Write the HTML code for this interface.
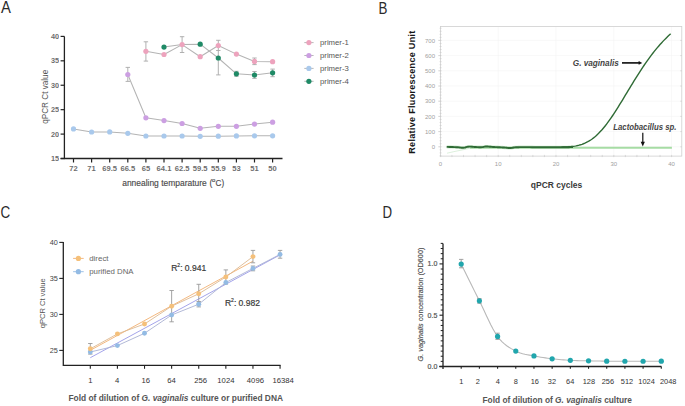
<!DOCTYPE html>
<html><head><meta charset="utf-8"><style>
html,body{margin:0;padding:0;background:#fff;width:685px;height:406px;overflow:hidden}
svg{display:block}
text{font-family:"Liberation Sans",sans-serif}
</style></head><body>
<svg width="685" height="406" viewBox="0 0 685 406">
<rect width="685" height="406" fill="#fff"/>
<text x="0.9" y="13.3" font-size="16.5" text-anchor="start" fill="#2a2a2a" font-weight="normal" font-style="normal" font-family="Liberation Sans, sans-serif" textLength="9.9" lengthAdjust="spacingAndGlyphs" >A</text>
<text x="378.4" y="13.8" font-size="16.5" text-anchor="start" fill="#2a2a2a" font-weight="normal" font-style="normal" font-family="Liberation Sans, sans-serif" textLength="8.9" lengthAdjust="spacingAndGlyphs" >B</text>
<text x="0.6" y="218.2" font-size="16.5" text-anchor="start" fill="#2a2a2a" font-weight="normal" font-style="normal" font-family="Liberation Sans, sans-serif" textLength="9.7" lengthAdjust="spacingAndGlyphs" >C</text>
<text x="382.6" y="218.3" font-size="16.5" text-anchor="start" fill="#2a2a2a" font-weight="normal" font-style="normal" font-family="Liberation Sans, sans-serif" textLength="9.6" lengthAdjust="spacingAndGlyphs" >D</text>
<line x1="64.4" y1="36.4" x2="64.4" y2="159.1" stroke="#222" stroke-width="1.3" />
<line x1="60.6" y1="36.4" x2="64.4" y2="36.4" stroke="#222" stroke-width="1.2" />
<text x="59" y="39.03" font-size="7.3" text-anchor="end" fill="#555" font-weight="bold" font-style="normal" font-family="Liberation Sans, sans-serif" opacity="0.85">40</text>
<line x1="60.6" y1="60.82" x2="64.4" y2="60.82" stroke="#222" stroke-width="1.2" />
<text x="59" y="63.45" font-size="7.3" text-anchor="end" fill="#555" font-weight="bold" font-style="normal" font-family="Liberation Sans, sans-serif" opacity="0.85">35</text>
<line x1="60.6" y1="85.25" x2="64.4" y2="85.25" stroke="#222" stroke-width="1.2" />
<text x="59" y="87.88" font-size="7.3" text-anchor="end" fill="#555" font-weight="bold" font-style="normal" font-family="Liberation Sans, sans-serif" opacity="0.85">30</text>
<line x1="60.6" y1="109.67" x2="64.4" y2="109.67" stroke="#222" stroke-width="1.2" />
<text x="59" y="112.3" font-size="7.3" text-anchor="end" fill="#555" font-weight="bold" font-style="normal" font-family="Liberation Sans, sans-serif" opacity="0.85">25</text>
<line x1="60.6" y1="134.1" x2="64.4" y2="134.1" stroke="#222" stroke-width="1.2" />
<text x="59" y="136.73" font-size="7.3" text-anchor="end" fill="#555" font-weight="bold" font-style="normal" font-family="Liberation Sans, sans-serif" opacity="0.85">20</text>
<line x1="60.6" y1="158.53" x2="64.4" y2="158.53" stroke="#222" stroke-width="1.2" />
<text x="59" y="161.15" font-size="7.3" text-anchor="end" fill="#555" font-weight="bold" font-style="normal" font-family="Liberation Sans, sans-serif" opacity="0.85">15</text>
<line x1="60.6" y1="158.5" x2="282.5" y2="158.5" stroke="#222" stroke-width="1.3" />
<line x1="73.5" y1="158.5" x2="73.5" y2="162.5" stroke="#222" stroke-width="1.2" />
<text x="73.5" y="170.64" font-size="7.6" text-anchor="middle" fill="#555" font-weight="bold" font-style="normal" font-family="Liberation Sans, sans-serif" opacity="0.85">72</text>
<line x1="91.6" y1="158.5" x2="91.6" y2="162.5" stroke="#222" stroke-width="1.2" />
<text x="91.6" y="170.64" font-size="7.6" text-anchor="middle" fill="#555" font-weight="bold" font-style="normal" font-family="Liberation Sans, sans-serif" opacity="0.85">71</text>
<line x1="109.7" y1="158.5" x2="109.7" y2="162.5" stroke="#222" stroke-width="1.2" />
<text x="109.7" y="170.64" font-size="7.6" text-anchor="middle" fill="#555" font-weight="bold" font-style="normal" font-family="Liberation Sans, sans-serif" opacity="0.85">69.5</text>
<line x1="127.8" y1="158.5" x2="127.8" y2="162.5" stroke="#222" stroke-width="1.2" />
<text x="127.8" y="170.64" font-size="7.6" text-anchor="middle" fill="#555" font-weight="bold" font-style="normal" font-family="Liberation Sans, sans-serif" opacity="0.85">66.5</text>
<line x1="145.9" y1="158.5" x2="145.9" y2="162.5" stroke="#222" stroke-width="1.2" />
<text x="145.9" y="170.64" font-size="7.6" text-anchor="middle" fill="#555" font-weight="bold" font-style="normal" font-family="Liberation Sans, sans-serif" opacity="0.85">65</text>
<line x1="164" y1="158.5" x2="164" y2="162.5" stroke="#222" stroke-width="1.2" />
<text x="164" y="170.64" font-size="7.6" text-anchor="middle" fill="#555" font-weight="bold" font-style="normal" font-family="Liberation Sans, sans-serif" opacity="0.85">64.1</text>
<line x1="182.1" y1="158.5" x2="182.1" y2="162.5" stroke="#222" stroke-width="1.2" />
<text x="182.1" y="170.64" font-size="7.6" text-anchor="middle" fill="#555" font-weight="bold" font-style="normal" font-family="Liberation Sans, sans-serif" opacity="0.85">62.5</text>
<line x1="200.2" y1="158.5" x2="200.2" y2="162.5" stroke="#222" stroke-width="1.2" />
<text x="200.2" y="170.64" font-size="7.6" text-anchor="middle" fill="#555" font-weight="bold" font-style="normal" font-family="Liberation Sans, sans-serif" opacity="0.85">59.5</text>
<line x1="218.3" y1="158.5" x2="218.3" y2="162.5" stroke="#222" stroke-width="1.2" />
<text x="218.3" y="170.64" font-size="7.6" text-anchor="middle" fill="#555" font-weight="bold" font-style="normal" font-family="Liberation Sans, sans-serif" opacity="0.85">55.9</text>
<line x1="236.4" y1="158.5" x2="236.4" y2="162.5" stroke="#222" stroke-width="1.2" />
<text x="236.4" y="170.64" font-size="7.6" text-anchor="middle" fill="#555" font-weight="bold" font-style="normal" font-family="Liberation Sans, sans-serif" opacity="0.85">53</text>
<line x1="254.5" y1="158.5" x2="254.5" y2="162.5" stroke="#222" stroke-width="1.2" />
<text x="254.5" y="170.64" font-size="7.6" text-anchor="middle" fill="#555" font-weight="bold" font-style="normal" font-family="Liberation Sans, sans-serif" opacity="0.85">51</text>
<line x1="272.6" y1="158.5" x2="272.6" y2="162.5" stroke="#222" stroke-width="1.2" />
<text x="272.6" y="170.64" font-size="7.6" text-anchor="middle" fill="#555" font-weight="bold" font-style="normal" font-family="Liberation Sans, sans-serif" opacity="0.85">50</text>
<text x="122.2" y="186.3" font-size="8.6" text-anchor="start" fill="#4a4a4a" font-weight="normal" font-style="normal" font-family="Liberation Sans, sans-serif" textLength="84.5" lengthAdjust="spacingAndGlyphs" stroke="#4a4a4a" stroke-width="0.15">annealing temparature</text>
<text x="209.6" y="186.3" font-size="8.6" text-anchor="start" fill="#4a4a4a" font-weight="normal" font-style="normal" font-family="Liberation Sans, sans-serif" stroke="#4a4a4a" stroke-width="0.15">(</text>
<text x="212" y="181.76" font-size="6" text-anchor="start" fill="#4a4a4a" font-weight="normal" font-style="normal" font-family="Liberation Sans, sans-serif" stroke="#4a4a4a" stroke-width="0.15">o</text>
<text x="215.6" y="186.3" font-size="8.6" text-anchor="start" fill="#4a4a4a" font-weight="normal" font-style="normal" font-family="Liberation Sans, sans-serif" textLength="8.6" lengthAdjust="spacingAndGlyphs" stroke="#4a4a4a" stroke-width="0.15">C)</text>
<text x="44.7" y="99.75" font-size="8.2" text-anchor="middle" fill="#555" font-weight="normal" font-style="normal" font-family="Liberation Sans, sans-serif" textLength="54" lengthAdjust="spacingAndGlyphs" transform="rotate(-90 44.7 96.8)" >qPCR Ct value</text>
<polyline points="73.5,128.9 91.6,132 109.7,131.9 127.8,133.3 145.9,136 164,136 182.1,136 200.2,136.3 218.3,136.2 236.4,135.9 254.5,135.8 272.6,135.8" fill="none" stroke="#b4b4b4" stroke-width="1.05" stroke-linejoin="round" />
<polyline points="127.8,74.5 145.9,117.8 164,120.6 182.1,123.5 200.2,128.3 218.3,126.3 236.4,126.3 254.5,124.1 272.6,122.2" fill="none" stroke="#b4b4b4" stroke-width="1.05" stroke-linejoin="round" />
<polyline points="164,47.1 182.1,44.5 200.2,44.2 218.3,58 236.4,73.8 254.5,75 272.6,72.8" fill="none" stroke="#b4b4b4" stroke-width="1.05" stroke-linejoin="round" />
<polyline points="145.9,51.3 164,54.5 182.1,44.6 200.2,56.7 218.3,45.5 236.4,54.1 254.5,61.4 272.6,61.7" fill="none" stroke="#b4b4b4" stroke-width="1.05" stroke-linejoin="round" />
<line x1="127.8" y1="67.4" x2="127.8" y2="81.4" stroke="#a8a8a8" stroke-width="0.9" />
<line x1="125.6" y1="67.4" x2="130" y2="67.4" stroke="#a8a8a8" stroke-width="0.9" />
<line x1="125.6" y1="81.4" x2="130" y2="81.4" stroke="#a8a8a8" stroke-width="0.9" />
<line x1="145.9" y1="41.8" x2="145.9" y2="61.1" stroke="#a8a8a8" stroke-width="0.9" />
<line x1="143.7" y1="41.8" x2="148.1" y2="41.8" stroke="#a8a8a8" stroke-width="0.9" />
<line x1="143.7" y1="61.1" x2="148.1" y2="61.1" stroke="#a8a8a8" stroke-width="0.9" />
<line x1="182.1" y1="36.7" x2="182.1" y2="52.5" stroke="#a8a8a8" stroke-width="0.9" />
<line x1="179.9" y1="36.7" x2="184.3" y2="36.7" stroke="#a8a8a8" stroke-width="0.9" />
<line x1="179.9" y1="52.5" x2="184.3" y2="52.5" stroke="#a8a8a8" stroke-width="0.9" />
<line x1="218.3" y1="40.3" x2="218.3" y2="74.9" stroke="#a8a8a8" stroke-width="0.9" />
<line x1="216.1" y1="40.3" x2="220.5" y2="40.3" stroke="#a8a8a8" stroke-width="0.9" />
<line x1="216.1" y1="74.9" x2="220.5" y2="74.9" stroke="#a8a8a8" stroke-width="0.9" />
<line x1="216.1" y1="50.5" x2="220.5" y2="50.5" stroke="#a8a8a8" stroke-width="0.9" />
<line x1="254.5" y1="58" x2="254.5" y2="64.6" stroke="#a8a8a8" stroke-width="0.9" />
<line x1="252.3" y1="58" x2="256.7" y2="58" stroke="#a8a8a8" stroke-width="0.9" />
<line x1="252.3" y1="64.6" x2="256.7" y2="64.6" stroke="#a8a8a8" stroke-width="0.9" />
<line x1="254.5" y1="71.5" x2="254.5" y2="78.4" stroke="#a8a8a8" stroke-width="0.9" />
<line x1="252.3" y1="71.5" x2="256.7" y2="71.5" stroke="#a8a8a8" stroke-width="0.9" />
<line x1="252.3" y1="78.4" x2="256.7" y2="78.4" stroke="#a8a8a8" stroke-width="0.9" />
<line x1="272.6" y1="69.1" x2="272.6" y2="76.7" stroke="#a8a8a8" stroke-width="0.9" />
<line x1="270.4" y1="69.1" x2="274.8" y2="69.1" stroke="#a8a8a8" stroke-width="0.9" />
<line x1="270.4" y1="76.7" x2="274.8" y2="76.7" stroke="#a8a8a8" stroke-width="0.9" />
<line x1="236.4" y1="71.3" x2="236.4" y2="76.3" stroke="#a8a8a8" stroke-width="0.9" />
<line x1="234.2" y1="71.3" x2="238.6" y2="71.3" stroke="#a8a8a8" stroke-width="0.9" />
<line x1="234.2" y1="76.3" x2="238.6" y2="76.3" stroke="#a8a8a8" stroke-width="0.9" />
<circle cx="73.5" cy="128.9" r="2.6" fill="#a9c9ec" />
<circle cx="91.6" cy="132" r="2.6" fill="#a9c9ec" />
<circle cx="109.7" cy="131.9" r="2.6" fill="#a9c9ec" />
<circle cx="127.8" cy="133.3" r="2.6" fill="#a9c9ec" />
<circle cx="145.9" cy="136" r="2.6" fill="#a9c9ec" />
<circle cx="164" cy="136" r="2.6" fill="#a9c9ec" />
<circle cx="182.1" cy="136" r="2.6" fill="#a9c9ec" />
<circle cx="200.2" cy="136.3" r="2.6" fill="#a9c9ec" />
<circle cx="218.3" cy="136.2" r="2.6" fill="#a9c9ec" />
<circle cx="236.4" cy="135.9" r="2.6" fill="#a9c9ec" />
<circle cx="254.5" cy="135.8" r="2.6" fill="#a9c9ec" />
<circle cx="272.6" cy="135.8" r="2.6" fill="#a9c9ec" />
<circle cx="127.8" cy="74.5" r="2.6" fill="#cc9fe2" />
<circle cx="145.9" cy="117.8" r="2.6" fill="#cc9fe2" />
<circle cx="164" cy="120.6" r="2.6" fill="#cc9fe2" />
<circle cx="182.1" cy="123.5" r="2.6" fill="#cc9fe2" />
<circle cx="200.2" cy="128.3" r="2.6" fill="#cc9fe2" />
<circle cx="218.3" cy="126.3" r="2.6" fill="#cc9fe2" />
<circle cx="236.4" cy="126.3" r="2.6" fill="#cc9fe2" />
<circle cx="254.5" cy="124.1" r="2.6" fill="#cc9fe2" />
<circle cx="272.6" cy="122.2" r="2.6" fill="#cc9fe2" />
<circle cx="164" cy="47.1" r="2.6" fill="#1f8a66" />
<circle cx="200.2" cy="44.2" r="2.6" fill="#1f8a66" />
<circle cx="218.3" cy="58" r="2.6" fill="#1f8a66" />
<circle cx="236.4" cy="73.8" r="2.6" fill="#1f8a66" />
<circle cx="254.5" cy="75" r="2.6" fill="#1f8a66" />
<circle cx="272.6" cy="72.8" r="2.6" fill="#1f8a66" />
<circle cx="145.9" cy="51.3" r="2.6" fill="#eda3bd" />
<circle cx="164" cy="54.5" r="2.6" fill="#eda3bd" />
<circle cx="182.1" cy="44.6" r="2.6" fill="#eda3bd" />
<circle cx="200.2" cy="56.7" r="2.6" fill="#eda3bd" />
<circle cx="218.3" cy="45.5" r="2.6" fill="#eda3bd" />
<circle cx="236.4" cy="54.1" r="2.6" fill="#eda3bd" />
<circle cx="254.5" cy="61.4" r="2.6" fill="#eda3bd" />
<circle cx="272.6" cy="61.7" r="2.6" fill="#eda3bd" />
<line x1="304.3" y1="42.6" x2="313.6" y2="42.6" stroke="#b0b0b0" stroke-width="0.9" />
<circle cx="308.9" cy="42.6" r="2.6" fill="#eda3bd" />
<text x="320" y="45.48" font-size="8" text-anchor="start" fill="#555" font-weight="normal" font-style="normal" font-family="Liberation Sans, sans-serif" textLength="28.8" lengthAdjust="spacingAndGlyphs" >primer-1</text>
<line x1="304.3" y1="55.5" x2="313.6" y2="55.5" stroke="#b0b0b0" stroke-width="0.9" />
<circle cx="308.9" cy="55.5" r="2.6" fill="#cc9fe2" />
<text x="320" y="58.38" font-size="8" text-anchor="start" fill="#555" font-weight="normal" font-style="normal" font-family="Liberation Sans, sans-serif" textLength="28.8" lengthAdjust="spacingAndGlyphs" >primer-2</text>
<line x1="304.3" y1="68.4" x2="313.6" y2="68.4" stroke="#b0b0b0" stroke-width="0.9" />
<circle cx="308.9" cy="68.4" r="2.6" fill="#a9c9ec" />
<text x="320" y="71.28" font-size="8" text-anchor="start" fill="#555" font-weight="normal" font-style="normal" font-family="Liberation Sans, sans-serif" textLength="28.8" lengthAdjust="spacingAndGlyphs" >primer-3</text>
<line x1="304.3" y1="81.3" x2="313.6" y2="81.3" stroke="#b0b0b0" stroke-width="0.9" />
<circle cx="308.9" cy="81.3" r="2.6" fill="#1f8a66" />
<text x="320" y="84.18" font-size="8" text-anchor="start" fill="#555" font-weight="normal" font-style="normal" font-family="Liberation Sans, sans-serif" textLength="28.8" lengthAdjust="spacingAndGlyphs" >primer-4</text>
<line x1="440.4" y1="146.8" x2="681.8" y2="146.8" stroke="#f3f3f3" stroke-width="0.6" />
<line x1="440.4" y1="131.6" x2="681.8" y2="131.6" stroke="#f3f3f3" stroke-width="0.6" />
<line x1="440.4" y1="116.4" x2="681.8" y2="116.4" stroke="#f3f3f3" stroke-width="0.6" />
<line x1="440.4" y1="101.2" x2="681.8" y2="101.2" stroke="#f3f3f3" stroke-width="0.6" />
<line x1="440.4" y1="86" x2="681.8" y2="86" stroke="#f3f3f3" stroke-width="0.6" />
<line x1="440.4" y1="70.8" x2="681.8" y2="70.8" stroke="#f3f3f3" stroke-width="0.6" />
<line x1="440.4" y1="55.6" x2="681.8" y2="55.6" stroke="#f3f3f3" stroke-width="0.6" />
<line x1="440.4" y1="40.4" x2="681.8" y2="40.4" stroke="#f3f3f3" stroke-width="0.6" />
<line x1="498.2" y1="26.4" x2="498.2" y2="156.1" stroke="#f3f3f3" stroke-width="0.6" />
<line x1="556" y1="26.4" x2="556" y2="156.1" stroke="#f3f3f3" stroke-width="0.6" />
<line x1="613.8" y1="26.4" x2="613.8" y2="156.1" stroke="#f3f3f3" stroke-width="0.6" />
<line x1="671.6" y1="26.4" x2="671.6" y2="156.1" stroke="#f3f3f3" stroke-width="0.6" />
<rect x="440.4" y="26.4" width="241.4" height="129.7" fill="none" stroke="#cfcfcf" stroke-width="0.8"/>
<line x1="439.6" y1="155.92" x2="441.6" y2="155.92" stroke="#c8c8c8" stroke-width="0.6" />
<line x1="439.6" y1="152.88" x2="441.6" y2="152.88" stroke="#c8c8c8" stroke-width="0.6" />
<line x1="439.6" y1="149.84" x2="441.6" y2="149.84" stroke="#c8c8c8" stroke-width="0.6" />
<line x1="439.6" y1="146.8" x2="441.6" y2="146.8" stroke="#c8c8c8" stroke-width="0.6" />
<line x1="439.6" y1="143.76" x2="441.6" y2="143.76" stroke="#c8c8c8" stroke-width="0.6" />
<line x1="439.6" y1="140.72" x2="441.6" y2="140.72" stroke="#c8c8c8" stroke-width="0.6" />
<line x1="439.6" y1="137.68" x2="441.6" y2="137.68" stroke="#c8c8c8" stroke-width="0.6" />
<line x1="439.6" y1="134.64" x2="441.6" y2="134.64" stroke="#c8c8c8" stroke-width="0.6" />
<line x1="439.6" y1="131.6" x2="441.6" y2="131.6" stroke="#c8c8c8" stroke-width="0.6" />
<line x1="439.6" y1="128.56" x2="441.6" y2="128.56" stroke="#c8c8c8" stroke-width="0.6" />
<line x1="439.6" y1="125.52" x2="441.6" y2="125.52" stroke="#c8c8c8" stroke-width="0.6" />
<line x1="439.6" y1="122.48" x2="441.6" y2="122.48" stroke="#c8c8c8" stroke-width="0.6" />
<line x1="439.6" y1="119.44" x2="441.6" y2="119.44" stroke="#c8c8c8" stroke-width="0.6" />
<line x1="439.6" y1="116.4" x2="441.6" y2="116.4" stroke="#c8c8c8" stroke-width="0.6" />
<line x1="439.6" y1="113.36" x2="441.6" y2="113.36" stroke="#c8c8c8" stroke-width="0.6" />
<line x1="439.6" y1="110.32" x2="441.6" y2="110.32" stroke="#c8c8c8" stroke-width="0.6" />
<line x1="439.6" y1="107.28" x2="441.6" y2="107.28" stroke="#c8c8c8" stroke-width="0.6" />
<line x1="439.6" y1="104.24" x2="441.6" y2="104.24" stroke="#c8c8c8" stroke-width="0.6" />
<line x1="439.6" y1="101.2" x2="441.6" y2="101.2" stroke="#c8c8c8" stroke-width="0.6" />
<line x1="439.6" y1="98.16" x2="441.6" y2="98.16" stroke="#c8c8c8" stroke-width="0.6" />
<line x1="439.6" y1="95.12" x2="441.6" y2="95.12" stroke="#c8c8c8" stroke-width="0.6" />
<line x1="439.6" y1="92.08" x2="441.6" y2="92.08" stroke="#c8c8c8" stroke-width="0.6" />
<line x1="439.6" y1="89.04" x2="441.6" y2="89.04" stroke="#c8c8c8" stroke-width="0.6" />
<line x1="439.6" y1="86" x2="441.6" y2="86" stroke="#c8c8c8" stroke-width="0.6" />
<line x1="439.6" y1="82.96" x2="441.6" y2="82.96" stroke="#c8c8c8" stroke-width="0.6" />
<line x1="439.6" y1="79.92" x2="441.6" y2="79.92" stroke="#c8c8c8" stroke-width="0.6" />
<line x1="439.6" y1="76.88" x2="441.6" y2="76.88" stroke="#c8c8c8" stroke-width="0.6" />
<line x1="439.6" y1="73.84" x2="441.6" y2="73.84" stroke="#c8c8c8" stroke-width="0.6" />
<line x1="439.6" y1="70.8" x2="441.6" y2="70.8" stroke="#c8c8c8" stroke-width="0.6" />
<line x1="439.6" y1="67.76" x2="441.6" y2="67.76" stroke="#c8c8c8" stroke-width="0.6" />
<line x1="439.6" y1="64.72" x2="441.6" y2="64.72" stroke="#c8c8c8" stroke-width="0.6" />
<line x1="439.6" y1="61.68" x2="441.6" y2="61.68" stroke="#c8c8c8" stroke-width="0.6" />
<line x1="439.6" y1="58.64" x2="441.6" y2="58.64" stroke="#c8c8c8" stroke-width="0.6" />
<line x1="439.6" y1="55.6" x2="441.6" y2="55.6" stroke="#c8c8c8" stroke-width="0.6" />
<line x1="439.6" y1="52.56" x2="441.6" y2="52.56" stroke="#c8c8c8" stroke-width="0.6" />
<line x1="439.6" y1="49.52" x2="441.6" y2="49.52" stroke="#c8c8c8" stroke-width="0.6" />
<line x1="439.6" y1="46.48" x2="441.6" y2="46.48" stroke="#c8c8c8" stroke-width="0.6" />
<line x1="439.6" y1="43.44" x2="441.6" y2="43.44" stroke="#c8c8c8" stroke-width="0.6" />
<line x1="439.6" y1="40.4" x2="441.6" y2="40.4" stroke="#c8c8c8" stroke-width="0.6" />
<line x1="439.6" y1="37.36" x2="441.6" y2="37.36" stroke="#c8c8c8" stroke-width="0.6" />
<line x1="439.6" y1="34.32" x2="441.6" y2="34.32" stroke="#c8c8c8" stroke-width="0.6" />
<line x1="439.6" y1="31.28" x2="441.6" y2="31.28" stroke="#c8c8c8" stroke-width="0.6" />
<line x1="439.6" y1="28.24" x2="441.6" y2="28.24" stroke="#c8c8c8" stroke-width="0.6" />
<line x1="438.2" y1="146.8" x2="440.4" y2="146.8" stroke="#c0c0c0" stroke-width="0.6" />
<text x="435" y="148.96" font-size="6" text-anchor="end" fill="#a0a0a0" font-weight="normal" font-style="normal" font-family="Liberation Sans, sans-serif" >0</text>
<line x1="438.2" y1="131.6" x2="440.4" y2="131.6" stroke="#c0c0c0" stroke-width="0.6" />
<text x="435" y="133.76" font-size="6" text-anchor="end" fill="#a0a0a0" font-weight="normal" font-style="normal" font-family="Liberation Sans, sans-serif" >100</text>
<line x1="438.2" y1="116.4" x2="440.4" y2="116.4" stroke="#c0c0c0" stroke-width="0.6" />
<text x="435" y="118.56" font-size="6" text-anchor="end" fill="#a0a0a0" font-weight="normal" font-style="normal" font-family="Liberation Sans, sans-serif" >200</text>
<line x1="438.2" y1="101.2" x2="440.4" y2="101.2" stroke="#c0c0c0" stroke-width="0.6" />
<text x="435" y="103.36" font-size="6" text-anchor="end" fill="#a0a0a0" font-weight="normal" font-style="normal" font-family="Liberation Sans, sans-serif" >300</text>
<line x1="438.2" y1="86" x2="440.4" y2="86" stroke="#c0c0c0" stroke-width="0.6" />
<text x="435" y="88.16" font-size="6" text-anchor="end" fill="#a0a0a0" font-weight="normal" font-style="normal" font-family="Liberation Sans, sans-serif" >400</text>
<line x1="438.2" y1="70.8" x2="440.4" y2="70.8" stroke="#c0c0c0" stroke-width="0.6" />
<text x="435" y="72.96" font-size="6" text-anchor="end" fill="#a0a0a0" font-weight="normal" font-style="normal" font-family="Liberation Sans, sans-serif" >500</text>
<line x1="438.2" y1="55.6" x2="440.4" y2="55.6" stroke="#c0c0c0" stroke-width="0.6" />
<text x="435" y="57.76" font-size="6" text-anchor="end" fill="#a0a0a0" font-weight="normal" font-style="normal" font-family="Liberation Sans, sans-serif" >600</text>
<line x1="438.2" y1="40.4" x2="440.4" y2="40.4" stroke="#c0c0c0" stroke-width="0.6" />
<text x="435" y="42.56" font-size="6" text-anchor="end" fill="#a0a0a0" font-weight="normal" font-style="normal" font-family="Liberation Sans, sans-serif" >700</text>
<line x1="440.4" y1="154.9" x2="440.4" y2="157.1" stroke="#c8c8c8" stroke-width="0.6" />
<line x1="451.96" y1="154.9" x2="451.96" y2="157.1" stroke="#c8c8c8" stroke-width="0.6" />
<line x1="463.52" y1="154.9" x2="463.52" y2="157.1" stroke="#c8c8c8" stroke-width="0.6" />
<line x1="475.08" y1="154.9" x2="475.08" y2="157.1" stroke="#c8c8c8" stroke-width="0.6" />
<line x1="486.64" y1="154.9" x2="486.64" y2="157.1" stroke="#c8c8c8" stroke-width="0.6" />
<line x1="498.2" y1="154.9" x2="498.2" y2="157.1" stroke="#c8c8c8" stroke-width="0.6" />
<line x1="509.76" y1="154.9" x2="509.76" y2="157.1" stroke="#c8c8c8" stroke-width="0.6" />
<line x1="521.32" y1="154.9" x2="521.32" y2="157.1" stroke="#c8c8c8" stroke-width="0.6" />
<line x1="532.88" y1="154.9" x2="532.88" y2="157.1" stroke="#c8c8c8" stroke-width="0.6" />
<line x1="544.44" y1="154.9" x2="544.44" y2="157.1" stroke="#c8c8c8" stroke-width="0.6" />
<line x1="556" y1="154.9" x2="556" y2="157.1" stroke="#c8c8c8" stroke-width="0.6" />
<line x1="567.56" y1="154.9" x2="567.56" y2="157.1" stroke="#c8c8c8" stroke-width="0.6" />
<line x1="579.12" y1="154.9" x2="579.12" y2="157.1" stroke="#c8c8c8" stroke-width="0.6" />
<line x1="590.68" y1="154.9" x2="590.68" y2="157.1" stroke="#c8c8c8" stroke-width="0.6" />
<line x1="602.24" y1="154.9" x2="602.24" y2="157.1" stroke="#c8c8c8" stroke-width="0.6" />
<line x1="613.8" y1="154.9" x2="613.8" y2="157.1" stroke="#c8c8c8" stroke-width="0.6" />
<line x1="625.36" y1="154.9" x2="625.36" y2="157.1" stroke="#c8c8c8" stroke-width="0.6" />
<line x1="636.92" y1="154.9" x2="636.92" y2="157.1" stroke="#c8c8c8" stroke-width="0.6" />
<line x1="648.48" y1="154.9" x2="648.48" y2="157.1" stroke="#c8c8c8" stroke-width="0.6" />
<line x1="660.04" y1="154.9" x2="660.04" y2="157.1" stroke="#c8c8c8" stroke-width="0.6" />
<line x1="671.6" y1="154.9" x2="671.6" y2="157.1" stroke="#c8c8c8" stroke-width="0.6" />
<line x1="680.3" y1="146.8" x2="681.8" y2="146.8" stroke="#c8c8c8" stroke-width="0.6" />
<line x1="680.3" y1="131.6" x2="681.8" y2="131.6" stroke="#c8c8c8" stroke-width="0.6" />
<line x1="680.3" y1="116.4" x2="681.8" y2="116.4" stroke="#c8c8c8" stroke-width="0.6" />
<line x1="680.3" y1="101.2" x2="681.8" y2="101.2" stroke="#c8c8c8" stroke-width="0.6" />
<line x1="680.3" y1="86" x2="681.8" y2="86" stroke="#c8c8c8" stroke-width="0.6" />
<line x1="680.3" y1="70.8" x2="681.8" y2="70.8" stroke="#c8c8c8" stroke-width="0.6" />
<line x1="680.3" y1="55.6" x2="681.8" y2="55.6" stroke="#c8c8c8" stroke-width="0.6" />
<line x1="680.3" y1="40.4" x2="681.8" y2="40.4" stroke="#c8c8c8" stroke-width="0.6" />
<text x="440.4" y="166.36" font-size="6" text-anchor="middle" fill="#a0a0a0" font-weight="normal" font-style="normal" font-family="Liberation Sans, sans-serif" >0</text>
<text x="498.2" y="166.36" font-size="6" text-anchor="middle" fill="#a0a0a0" font-weight="normal" font-style="normal" font-family="Liberation Sans, sans-serif" >10</text>
<text x="556" y="166.36" font-size="6" text-anchor="middle" fill="#a0a0a0" font-weight="normal" font-style="normal" font-family="Liberation Sans, sans-serif" >20</text>
<text x="613.8" y="166.36" font-size="6" text-anchor="middle" fill="#a0a0a0" font-weight="normal" font-style="normal" font-family="Liberation Sans, sans-serif" >30</text>
<text x="671.6" y="166.36" font-size="6" text-anchor="middle" fill="#a0a0a0" font-weight="normal" font-style="normal" font-family="Liberation Sans, sans-serif" >40</text>
<text x="0" y="0" font-size="9" font-weight="bold" fill="#151515" font-family="Liberation Sans, sans-serif" textLength="123" lengthAdjust="spacing" transform="translate(415.3,153.7) rotate(-90)">Relative Fluorescence Unit</text>
<text x="530.8" y="188.24" font-size="9" text-anchor="start" fill="#3a3a3a" font-weight="bold" font-style="normal" font-family="Liberation Sans, sans-serif" textLength="51.4" lengthAdjust="spacingAndGlyphs" >qPCR cycles</text>
<polyline points="447,153.2 455,151.4 463.4,149.7 470,148.2 476,147.7" fill="none" stroke="#d4ecd4" stroke-width="0.8" stroke-linejoin="round" />
<line x1="470" y1="147.7" x2="671.9" y2="147.7" stroke="#a6dca4" stroke-width="2" />
<polyline points="446.7,146.9 447.27,146.91 448.05,146.92 448.97,146.93 449.99,146.95 451.01,146.97 452,147 452.97,147.04 453.97,147.08 454.99,147.12 456.02,147.18 457.03,147.24 458,147.3 458.93,147.39 459.84,147.51 460.73,147.64 461.61,147.75 462.5,147.81 463.4,147.8 464.32,147.68 465.24,147.47 466.16,147.21 467.1,146.94 468.04,146.73 469,146.6 469.98,146.58 470.97,146.62 471.98,146.71 472.99,146.82 474,146.93 475,147 476,147.06 477.01,147.11 478.02,147.17 479.02,147.21 480.02,147.22 481,147.2 481.96,147.12 482.9,146.99 483.83,146.83 484.77,146.68 485.72,146.56 486.7,146.5 487.71,146.52 488.73,146.59 489.77,146.69 490.83,146.8 491.9,146.91 493,147 494.15,147.06 495.36,147.11 496.58,147.16 497.79,147.21 498.94,147.25 500,147.3 500.95,147.35 501.81,147.4 502.62,147.44 503.41,147.49 504.19,147.54 505,147.6 505.82,147.67 506.63,147.77 507.44,147.86 508.26,147.94 509.11,148 510,148 510.91,147.94 511.81,147.83 512.75,147.69 513.74,147.54 514.81,147.4 516,147.3 517.26,147.23 518.56,147.18 519.94,147.14 521.44,147.12 523.12,147.1 525,147.1 527.15,147.11 529.56,147.14 532.12,147.19 534.78,147.23 537.43,147.27 540,147.3 542.55,147.31 545.15,147.31 547.75,147.31 550.3,147.31 552.73,147.3 555,147.3 557.11,147.3 559.11,147.31 561,147.32 562.78,147.32 564.44,147.32 566,147.3 567.48,147.26 568.89,147.21 570.19,147.15 571.33,147.09 572.28,147.04 573,147" fill="none" stroke="#b5e0b5" stroke-width="3.2" stroke-linejoin="round" stroke-opacity="0.6"/>
<polyline points="446.7,146.9 447.27,146.91 448.05,146.92 448.97,146.93 449.99,146.95 451.01,146.97 452,147 452.97,147.04 453.97,147.08 454.99,147.12 456.02,147.18 457.03,147.24 458,147.3 458.93,147.39 459.84,147.51 460.73,147.64 461.61,147.75 462.5,147.81 463.4,147.8 464.32,147.68 465.24,147.47 466.16,147.21 467.1,146.94 468.04,146.73 469,146.6 469.98,146.58 470.97,146.62 471.98,146.71 472.99,146.82 474,146.93 475,147 476,147.06 477.01,147.11 478.02,147.17 479.02,147.21 480.02,147.22 481,147.2 481.96,147.12 482.9,146.99 483.83,146.83 484.77,146.68 485.72,146.56 486.7,146.5 487.71,146.52 488.73,146.59 489.77,146.69 490.83,146.8 491.9,146.91 493,147 494.15,147.06 495.36,147.11 496.58,147.16 497.79,147.21 498.94,147.25 500,147.3 500.95,147.35 501.81,147.4 502.62,147.44 503.41,147.49 504.19,147.54 505,147.6 505.82,147.67 506.63,147.77 507.44,147.86 508.26,147.94 509.11,148 510,148 510.91,147.94 511.81,147.83 512.75,147.69 513.74,147.54 514.81,147.4 516,147.3 517.26,147.23 518.56,147.18 519.94,147.14 521.44,147.12 523.12,147.1 525,147.1 527.15,147.11 529.56,147.14 532.12,147.19 534.78,147.23 537.43,147.27 540,147.3 542.55,147.31 545.15,147.31 547.75,147.31 550.3,147.31 552.73,147.3 555,147.3 557.11,147.3 559.11,147.31 561,147.32 562.78,147.32 564.44,147.32 566,147.3 567.48,147.26 568.89,147.21 570.19,147.15 571.33,147.09 572.28,147.04 573,147" fill="none" stroke="#2f6b35" stroke-width="1.9" stroke-linejoin="round" />
<polyline points="566,147.3 561.78,147.1 563.23,147.06 564.67,147.01 566.12,146.95 567.56,146.87 569,146.77 570.45,146.65 571.89,146.5 573.34,146.32 574.78,146.1 576.23,145.84 577.67,145.54 579.12,145.19 580.56,144.77 582.01,144.3 583.45,143.77 584.9,143.16 586.35,142.48 587.79,141.73 589.24,140.89 590.68,139.97 592.12,138.96 593.57,137.86 595.01,136.68 596.46,135.41 597.9,134.05 599.35,132.6 600.79,131.06 602.24,129.44 603.68,127.73 605.13,125.95 606.58,124.09 608.02,122.16 609.46,120.17 610.91,118.11 612.36,115.99 613.8,113.82 615.25,111.6 616.69,109.34 618.13,107.05 619.58,104.73 621.02,102.38 622.47,100.01 623.91,97.62 625.36,95.23 626.8,92.83 628.25,90.44 629.69,88.05 631.14,85.66 632.59,83.3 634.03,80.94 635.48,78.62 636.92,76.31 638.37,74.03 639.81,71.79 641.25,69.57 642.7,67.39 644.14,65.25 645.59,63.15 647.03,61.09 648.48,59.07 649.92,57.1 651.37,55.17 652.82,53.28 654.26,51.44 655.7,49.65 657.15,47.9 658.6,46.2 660.04,44.55 661.49,42.94 662.93,41.38 664.38,39.87 665.82,38.4 667.26,36.97 668.71,35.59 670.15,34.26 670.62,33.84" fill="none" stroke="#2f6b35" stroke-width="1.4" stroke-linejoin="round" />
<text x="572.8" y="65.75" font-size="8.2" text-anchor="start" fill="#444" font-weight="bold" font-style="italic" font-family="Liberation Sans, sans-serif" textLength="46" lengthAdjust="spacingAndGlyphs" >G. vaginalis</text>
<line x1="622" y1="62.9" x2="639.5" y2="62.9" stroke="#1a1a1a" stroke-width="1.7" />
<polygon points="642.3,62.9 638.6,61.0 638.6,64.8" fill="#111"/>
<text x="613.2" y="130.25" font-size="8.2" text-anchor="start" fill="#444" font-weight="bold" font-style="italic" font-family="Liberation Sans, sans-serif" textLength="63.3" lengthAdjust="spacingAndGlyphs" >Lactobacillus sp.</text>
<line x1="642.8" y1="132.7" x2="642.8" y2="143.5" stroke="#111" stroke-width="1.2" />
<polygon points="642.8,146.5 640.7,141.8 644.9,141.8" fill="#111"/>
<line x1="63.3" y1="242" x2="63.3" y2="365.9" stroke="#222" stroke-width="1.3" />
<line x1="59.3" y1="242.4" x2="63.3" y2="242.4" stroke="#222" stroke-width="1.1" />
<text x="57.9" y="245.03" font-size="7.3" text-anchor="end" fill="#444" font-weight="normal" font-style="normal" font-family="Liberation Sans, sans-serif" >40</text>
<line x1="59.3" y1="278.4" x2="63.3" y2="278.4" stroke="#222" stroke-width="1.1" />
<text x="57.9" y="281.03" font-size="7.3" text-anchor="end" fill="#444" font-weight="normal" font-style="normal" font-family="Liberation Sans, sans-serif" >35</text>
<line x1="59.3" y1="314.4" x2="63.3" y2="314.4" stroke="#222" stroke-width="1.1" />
<text x="57.9" y="317.03" font-size="7.3" text-anchor="end" fill="#444" font-weight="normal" font-style="normal" font-family="Liberation Sans, sans-serif" >30</text>
<line x1="59.3" y1="350.4" x2="63.3" y2="350.4" stroke="#222" stroke-width="1.1" />
<text x="57.9" y="353.03" font-size="7.3" text-anchor="end" fill="#444" font-weight="normal" font-style="normal" font-family="Liberation Sans, sans-serif" >25</text>
<line x1="63.3" y1="365.3" x2="280.6" y2="365.3" stroke="#222" stroke-width="1.3" />
<line x1="90.3" y1="365.3" x2="90.3" y2="368.8" stroke="#222" stroke-width="1.1" />
<text x="90.5" y="382.87" font-size="7.7" text-anchor="middle" fill="#333" font-weight="normal" font-style="normal" font-family="Liberation Sans, sans-serif" >1</text>
<line x1="117.41" y1="365.3" x2="117.41" y2="368.8" stroke="#222" stroke-width="1.1" />
<text x="117.2" y="382.87" font-size="7.7" text-anchor="middle" fill="#333" font-weight="normal" font-style="normal" font-family="Liberation Sans, sans-serif" >4</text>
<line x1="144.52" y1="365.3" x2="144.52" y2="368.8" stroke="#222" stroke-width="1.1" />
<text x="145.7" y="382.87" font-size="7.7" text-anchor="middle" fill="#333" font-weight="normal" font-style="normal" font-family="Liberation Sans, sans-serif" >16</text>
<line x1="171.63" y1="365.3" x2="171.63" y2="368.8" stroke="#222" stroke-width="1.1" />
<text x="171.6" y="382.87" font-size="7.7" text-anchor="middle" fill="#333" font-weight="normal" font-style="normal" font-family="Liberation Sans, sans-serif" >64</text>
<line x1="198.74" y1="365.3" x2="198.74" y2="368.8" stroke="#222" stroke-width="1.1" />
<text x="200.7" y="382.87" font-size="7.7" text-anchor="middle" fill="#333" font-weight="normal" font-style="normal" font-family="Liberation Sans, sans-serif" >256</text>
<line x1="225.85" y1="365.3" x2="225.85" y2="368.8" stroke="#222" stroke-width="1.1" />
<text x="225.9" y="382.87" font-size="7.7" text-anchor="middle" fill="#333" font-weight="normal" font-style="normal" font-family="Liberation Sans, sans-serif" >1024</text>
<line x1="252.96" y1="365.3" x2="252.96" y2="368.8" stroke="#222" stroke-width="1.1" />
<text x="255.4" y="382.87" font-size="7.7" text-anchor="middle" fill="#333" font-weight="normal" font-style="normal" font-family="Liberation Sans, sans-serif" >4096</text>
<line x1="280.07" y1="365.3" x2="280.07" y2="368.8" stroke="#222" stroke-width="1.1" />
<text x="283.2" y="382.87" font-size="7.7" text-anchor="middle" fill="#333" font-weight="normal" font-style="normal" font-family="Liberation Sans, sans-serif" >16384</text>
<text x="42.6" y="305.96" font-size="7.4" text-anchor="middle" fill="#555" font-weight="normal" font-style="normal" font-family="Liberation Sans, sans-serif" textLength="50" lengthAdjust="spacingAndGlyphs" transform="rotate(-90 42.6 303.3)" >qPCR Ct value</text>
<text x="68.5" y="400.9" font-size="8.4" font-weight="bold" fill="#555" font-family="Liberation Sans, sans-serif" textLength="214.5" lengthAdjust="spacingAndGlyphs">Fold of dilution of <tspan font-style="italic">G. vaginalis</tspan> culture or purified DNA</text>
<line x1="90.3" y1="357.7" x2="280.1" y2="254.8" stroke="#9a9ae8" stroke-width="0.9" />
<line x1="90.3" y1="350.3" x2="252.9" y2="261.2" stroke="#f2b070" stroke-width="0.9" />
<polyline points="90.3,352 117.41,345.6 144.52,333.3 171.63,315 198.74,304.2 225.85,282.5 252.96,268.4 280.07,254.4" fill="none" stroke="#a9b1d2" stroke-width="0.9" stroke-linejoin="round" />
<polyline points="90.3,348.8 117.41,333.9 144.52,324 171.63,306.2 198.74,293.8 225.85,277 252.96,256.6" fill="none" stroke="#dcb890" stroke-width="0.9" stroke-linejoin="round" />
<line x1="90.3" y1="343.5" x2="90.3" y2="354.1" stroke="#9a9a9a" stroke-width="0.9" />
<line x1="88.1" y1="343.5" x2="92.5" y2="343.5" stroke="#9a9a9a" stroke-width="0.9" />
<line x1="88.1" y1="354.1" x2="92.5" y2="354.1" stroke="#9a9a9a" stroke-width="0.9" />
<line x1="171.63" y1="290.5" x2="171.63" y2="321.8" stroke="#9a9a9a" stroke-width="0.9" />
<line x1="169.43" y1="290.5" x2="173.83" y2="290.5" stroke="#9a9a9a" stroke-width="0.9" />
<line x1="169.43" y1="321.8" x2="173.83" y2="321.8" stroke="#9a9a9a" stroke-width="0.9" />
<line x1="198.74" y1="284.3" x2="198.74" y2="303.3" stroke="#9a9a9a" stroke-width="0.9" />
<line x1="196.54" y1="284.3" x2="200.94" y2="284.3" stroke="#9a9a9a" stroke-width="0.9" />
<line x1="196.54" y1="303.3" x2="200.94" y2="303.3" stroke="#9a9a9a" stroke-width="0.9" />
<line x1="225.85" y1="269.9" x2="225.85" y2="284.1" stroke="#9a9a9a" stroke-width="0.9" />
<line x1="223.65" y1="269.9" x2="228.05" y2="269.9" stroke="#9a9a9a" stroke-width="0.9" />
<line x1="223.65" y1="284.1" x2="228.05" y2="284.1" stroke="#9a9a9a" stroke-width="0.9" />
<line x1="252.96" y1="250.4" x2="252.96" y2="262.8" stroke="#9a9a9a" stroke-width="0.9" />
<line x1="250.76" y1="250.4" x2="255.16" y2="250.4" stroke="#9a9a9a" stroke-width="0.9" />
<line x1="250.76" y1="262.8" x2="255.16" y2="262.8" stroke="#9a9a9a" stroke-width="0.9" />
<line x1="280.07" y1="250.4" x2="280.07" y2="258.2" stroke="#9a9a9a" stroke-width="0.9" />
<line x1="277.87" y1="250.4" x2="282.27" y2="250.4" stroke="#9a9a9a" stroke-width="0.9" />
<line x1="277.87" y1="258.2" x2="282.27" y2="258.2" stroke="#9a9a9a" stroke-width="0.9" />
<line x1="252.96" y1="266" x2="252.96" y2="270.8" stroke="#9a9a9a" stroke-width="0.9" />
<line x1="250.76" y1="266" x2="255.16" y2="266" stroke="#9a9a9a" stroke-width="0.9" />
<line x1="250.76" y1="270.8" x2="255.16" y2="270.8" stroke="#9a9a9a" stroke-width="0.9" />
<line x1="198.74" y1="301.5" x2="198.74" y2="306.9" stroke="#9a9a9a" stroke-width="0.9" />
<line x1="196.54" y1="301.5" x2="200.94" y2="301.5" stroke="#9a9a9a" stroke-width="0.9" />
<line x1="196.54" y1="306.9" x2="200.94" y2="306.9" stroke="#9a9a9a" stroke-width="0.9" />
<circle cx="90.3" cy="352" r="2.45" fill="#93bbe4" />
<circle cx="117.41" cy="345.6" r="2.45" fill="#93bbe4" />
<circle cx="144.52" cy="333.3" r="2.45" fill="#93bbe4" />
<circle cx="171.63" cy="315" r="2.45" fill="#93bbe4" />
<circle cx="198.74" cy="304.2" r="2.45" fill="#93bbe4" />
<circle cx="225.85" cy="282.5" r="2.45" fill="#93bbe4" />
<circle cx="252.96" cy="268.4" r="2.45" fill="#93bbe4" />
<circle cx="280.07" cy="254.4" r="2.45" fill="#93bbe4" />
<circle cx="90.3" cy="348.8" r="2.45" fill="#f5c07a" />
<circle cx="117.41" cy="333.9" r="2.45" fill="#f5c07a" />
<circle cx="144.52" cy="324" r="2.45" fill="#f5c07a" />
<circle cx="171.63" cy="306.2" r="2.45" fill="#f5c07a" />
<circle cx="198.74" cy="293.8" r="2.45" fill="#f5c07a" />
<circle cx="225.85" cy="277" r="2.45" fill="#f5c07a" />
<circle cx="252.96" cy="256.6" r="2.45" fill="#f5c07a" />
<line x1="73.1" y1="258.4" x2="83.7" y2="258.4" stroke="#f2b070" stroke-width="0.9" />
<circle cx="78.4" cy="258.4" r="2.6" fill="#f5c07a" />
<text x="89.2" y="261.21" font-size="7.8" text-anchor="start" fill="#666" font-weight="normal" font-style="normal" font-family="Liberation Sans, sans-serif" textLength="19.4" lengthAdjust="spacingAndGlyphs" >direct</text>
<line x1="73.1" y1="271.7" x2="83.7" y2="271.7" stroke="#93bbe4" stroke-width="0.9" />
<circle cx="78.4" cy="271.7" r="2.6" fill="#93bbe4" />
<text x="89.2" y="273.51" font-size="7.8" text-anchor="start" fill="#666" font-weight="normal" font-style="normal" font-family="Liberation Sans, sans-serif" textLength="44.4" lengthAdjust="spacingAndGlyphs" >purified DNA</text>
<text x="171.2" y="270.6" font-size="8.8" fill="#3a3a3a" stroke="#3a3a3a" stroke-width="0.2" font-family="Liberation Sans, sans-serif" textLength="35" lengthAdjust="spacingAndGlyphs">R<tspan font-size="5.2" dy="-3.4">2</tspan><tspan dy="3.4">: 0.941</tspan></text>
<text x="224.9" y="305.8" font-size="8.8" fill="#3a3a3a" stroke="#3a3a3a" stroke-width="0.2" font-family="Liberation Sans, sans-serif" textLength="35.1" lengthAdjust="spacingAndGlyphs">R<tspan font-size="5.2" dy="-3.4">2</tspan><tspan dy="3.4">: 0.982</tspan></text>
<line x1="443" y1="243.4" x2="443" y2="369" stroke="#222" stroke-width="1.3" />
<line x1="439.5" y1="366.5" x2="443" y2="366.5" stroke="#222" stroke-width="1.1" />
<line x1="440.7" y1="361.37" x2="443" y2="361.37" stroke="#222" stroke-width="1" />
<line x1="440.7" y1="356.24" x2="443" y2="356.24" stroke="#222" stroke-width="1" />
<line x1="440.7" y1="351.11" x2="443" y2="351.11" stroke="#222" stroke-width="1" />
<line x1="440.7" y1="345.98" x2="443" y2="345.98" stroke="#222" stroke-width="1" />
<line x1="440.7" y1="340.85" x2="443" y2="340.85" stroke="#222" stroke-width="1" />
<line x1="440.7" y1="335.72" x2="443" y2="335.72" stroke="#222" stroke-width="1" />
<line x1="440.7" y1="330.59" x2="443" y2="330.59" stroke="#222" stroke-width="1" />
<line x1="440.7" y1="325.46" x2="443" y2="325.46" stroke="#222" stroke-width="1" />
<line x1="440.7" y1="320.33" x2="443" y2="320.33" stroke="#222" stroke-width="1" />
<line x1="439.5" y1="315.2" x2="443" y2="315.2" stroke="#222" stroke-width="1.1" />
<line x1="440.7" y1="310.07" x2="443" y2="310.07" stroke="#222" stroke-width="1" />
<line x1="440.7" y1="304.94" x2="443" y2="304.94" stroke="#222" stroke-width="1" />
<line x1="440.7" y1="299.81" x2="443" y2="299.81" stroke="#222" stroke-width="1" />
<line x1="440.7" y1="294.68" x2="443" y2="294.68" stroke="#222" stroke-width="1" />
<line x1="440.7" y1="289.55" x2="443" y2="289.55" stroke="#222" stroke-width="1" />
<line x1="440.7" y1="284.42" x2="443" y2="284.42" stroke="#222" stroke-width="1" />
<line x1="440.7" y1="279.29" x2="443" y2="279.29" stroke="#222" stroke-width="1" />
<line x1="440.7" y1="274.16" x2="443" y2="274.16" stroke="#222" stroke-width="1" />
<line x1="440.7" y1="269.03" x2="443" y2="269.03" stroke="#222" stroke-width="1" />
<line x1="439.5" y1="263.9" x2="443" y2="263.9" stroke="#222" stroke-width="1.1" />
<line x1="440.7" y1="258.77" x2="443" y2="258.77" stroke="#222" stroke-width="1" />
<line x1="440.7" y1="253.64" x2="443" y2="253.64" stroke="#222" stroke-width="1" />
<line x1="440.7" y1="248.51" x2="443" y2="248.51" stroke="#222" stroke-width="1" />
<line x1="440.7" y1="243.38" x2="443" y2="243.38" stroke="#222" stroke-width="1" />
<text x="437.3" y="266.42" font-size="7" text-anchor="end" fill="#555" font-weight="normal" font-style="normal" font-family="Liberation Sans, sans-serif" stroke="#555" stroke-width="0.2">1.0</text>
<text x="437.3" y="317.72" font-size="7" text-anchor="end" fill="#555" font-weight="normal" font-style="normal" font-family="Liberation Sans, sans-serif" stroke="#555" stroke-width="0.2">0.5</text>
<text x="437.3" y="369.02" font-size="7" text-anchor="end" fill="#555" font-weight="normal" font-style="normal" font-family="Liberation Sans, sans-serif" stroke="#555" stroke-width="0.2">0.0</text>
<line x1="439.3" y1="366.5" x2="661.4" y2="366.5" stroke="#222" stroke-width="1.3" />
<line x1="461.2" y1="366.5" x2="461.2" y2="368.8" stroke="#222" stroke-width="1.1" />
<line x1="479.39" y1="366.5" x2="479.39" y2="368.8" stroke="#222" stroke-width="1.1" />
<line x1="497.58" y1="366.5" x2="497.58" y2="368.8" stroke="#222" stroke-width="1.1" />
<line x1="515.77" y1="366.5" x2="515.77" y2="368.8" stroke="#222" stroke-width="1.1" />
<line x1="533.96" y1="366.5" x2="533.96" y2="368.8" stroke="#222" stroke-width="1.1" />
<line x1="552.15" y1="366.5" x2="552.15" y2="368.8" stroke="#222" stroke-width="1.1" />
<line x1="570.34" y1="366.5" x2="570.34" y2="368.8" stroke="#222" stroke-width="1.1" />
<line x1="588.53" y1="366.5" x2="588.53" y2="368.8" stroke="#222" stroke-width="1.1" />
<line x1="606.72" y1="366.5" x2="606.72" y2="368.8" stroke="#222" stroke-width="1.1" />
<line x1="624.91" y1="366.5" x2="624.91" y2="368.8" stroke="#222" stroke-width="1.1" />
<line x1="643.1" y1="366.5" x2="643.1" y2="368.8" stroke="#222" stroke-width="1.1" />
<line x1="661.29" y1="366.5" x2="661.29" y2="368.8" stroke="#222" stroke-width="1.1" />
<text x="461.4" y="384.06" font-size="7.4" text-anchor="middle" fill="#333" font-weight="normal" font-style="normal" font-family="Liberation Sans, sans-serif" >1</text>
<text x="477.9" y="384.06" font-size="7.4" text-anchor="middle" fill="#333" font-weight="normal" font-style="normal" font-family="Liberation Sans, sans-serif" >2</text>
<text x="497.9" y="384.06" font-size="7.4" text-anchor="middle" fill="#333" font-weight="normal" font-style="normal" font-family="Liberation Sans, sans-serif" >4</text>
<text x="515.8" y="384.06" font-size="7.4" text-anchor="middle" fill="#333" font-weight="normal" font-style="normal" font-family="Liberation Sans, sans-serif" >8</text>
<text x="534.8" y="384.06" font-size="7.4" text-anchor="middle" fill="#333" font-weight="normal" font-style="normal" font-family="Liberation Sans, sans-serif" >16</text>
<text x="551.9" y="384.06" font-size="7.4" text-anchor="middle" fill="#333" font-weight="normal" font-style="normal" font-family="Liberation Sans, sans-serif" >32</text>
<text x="570.2" y="384.06" font-size="7.4" text-anchor="middle" fill="#333" font-weight="normal" font-style="normal" font-family="Liberation Sans, sans-serif" >64</text>
<text x="588.9" y="384.06" font-size="7.4" text-anchor="middle" fill="#333" font-weight="normal" font-style="normal" font-family="Liberation Sans, sans-serif" >128</text>
<text x="607.9" y="384.06" font-size="7.4" text-anchor="middle" fill="#333" font-weight="normal" font-style="normal" font-family="Liberation Sans, sans-serif" >256</text>
<text x="627" y="384.06" font-size="7.4" text-anchor="middle" fill="#333" font-weight="normal" font-style="normal" font-family="Liberation Sans, sans-serif" >512</text>
<text x="646.6" y="384.06" font-size="7.4" text-anchor="middle" fill="#333" font-weight="normal" font-style="normal" font-family="Liberation Sans, sans-serif" >1024</text>
<text x="668.2" y="384.06" font-size="7.4" text-anchor="middle" fill="#333" font-weight="normal" font-style="normal" font-family="Liberation Sans, sans-serif" >2048</text>
<text x="482.5" y="402.9" font-size="8.4" font-weight="bold" fill="#555" font-family="Liberation Sans, sans-serif" textLength="149.4" lengthAdjust="spacingAndGlyphs">Fold of dilution of <tspan font-style="italic">G. vaginalis</tspan> culture</text>
<text x="0" y="0" font-size="6.7" fill="#505050" stroke="#505050" stroke-width="0.15" font-family="Liberation Sans, sans-serif" textLength="113.8" lengthAdjust="spacingAndGlyphs" transform="translate(423.0,361.4) rotate(-90)"><tspan font-style="italic">G. vaginalis</tspan> concentration (OD600)</text>
<polyline points="461.2,264.11 462.6,266.95 464.47,270.73 466.69,275.24 469.16,280.25 471.77,285.53 474.42,290.87 476.99,296.05 479.39,300.84 481.66,305.48 483.94,310.31 486.21,315.19 488.49,320.02 490.76,324.67 493.03,329.04 495.31,333 497.58,336.44 499.85,339.34 502.13,341.81 504.4,343.91 506.67,345.7 508.95,347.25 511.22,348.63 513.5,349.89 515.77,351.11 518.04,352.2 520.32,353.05 522.59,353.73 524.87,354.26 527.14,354.7 529.41,355.09 531.69,355.49 533.96,355.93 536.23,356.39 538.51,356.82 540.78,357.21 543.06,357.57 545.33,357.91 547.6,358.23 549.88,358.52 552.15,358.81 554.42,359.07 556.7,359.31 558.97,359.52 561.25,359.72 563.52,359.9 565.79,360.06 568.07,360.21 570.34,360.34 572.61,360.46 574.89,360.55 577.16,360.62 579.43,360.68 581.71,360.72 583.98,360.77 586.26,360.81 588.53,360.86 590.8,360.91 593.08,360.95 595.35,361 597.63,361.04 599.9,361.07 602.17,361.11 604.45,361.14 606.72,361.16 608.99,361.19 611.27,361.21 613.54,361.22 615.81,361.24 618.09,361.25 620.36,361.25 622.64,361.26 624.91,361.27 627.18,361.27 629.46,361.28 631.73,361.28 634.01,361.28 636.28,361.28 638.55,361.28 640.83,361.27 643.1,361.27 645.5,361.26 648.07,361.25 650.72,361.23 653.33,361.22 655.8,361.2 658.02,361.19 659.89,361.17 661.29,361.16" fill="none" stroke="#b8b8b8" stroke-width="1.1" stroke-linejoin="round" />
<line x1="461.2" y1="259.4" x2="461.2" y2="267.8" stroke="#999" stroke-width="0.9" />
<line x1="459" y1="259.4" x2="463.4" y2="259.4" stroke="#999" stroke-width="0.9" />
<line x1="459" y1="267.8" x2="463.4" y2="267.8" stroke="#999" stroke-width="0.9" />
<line x1="479.39" y1="298.6" x2="479.39" y2="303.2" stroke="#999" stroke-width="0.9" />
<line x1="477.19" y1="298.6" x2="481.59" y2="298.6" stroke="#999" stroke-width="0.9" />
<line x1="477.19" y1="303.2" x2="481.59" y2="303.2" stroke="#999" stroke-width="0.9" />
<line x1="497.58" y1="333.2" x2="497.58" y2="339.4" stroke="#999" stroke-width="0.9" />
<line x1="495.38" y1="333.2" x2="499.78" y2="333.2" stroke="#999" stroke-width="0.9" />
<line x1="495.38" y1="339.4" x2="499.78" y2="339.4" stroke="#999" stroke-width="0.9" />
<circle cx="461.2" cy="264.11" r="2.6" fill="#21a6ad" />
<circle cx="479.39" cy="300.84" r="2.6" fill="#21a6ad" />
<circle cx="497.58" cy="336.44" r="2.6" fill="#21a6ad" />
<circle cx="515.77" cy="351.11" r="2.6" fill="#21a6ad" />
<circle cx="533.96" cy="355.93" r="2.6" fill="#21a6ad" />
<circle cx="552.15" cy="358.81" r="2.6" fill="#21a6ad" />
<circle cx="570.34" cy="360.34" r="2.6" fill="#21a6ad" />
<circle cx="588.53" cy="360.86" r="2.6" fill="#21a6ad" />
<circle cx="606.72" cy="361.16" r="2.6" fill="#21a6ad" />
<circle cx="624.91" cy="361.27" r="2.6" fill="#21a6ad" />
<circle cx="643.1" cy="361.27" r="2.6" fill="#21a6ad" />
<circle cx="661.29" cy="361.16" r="2.6" fill="#21a6ad" />
</svg>
</body></html>
